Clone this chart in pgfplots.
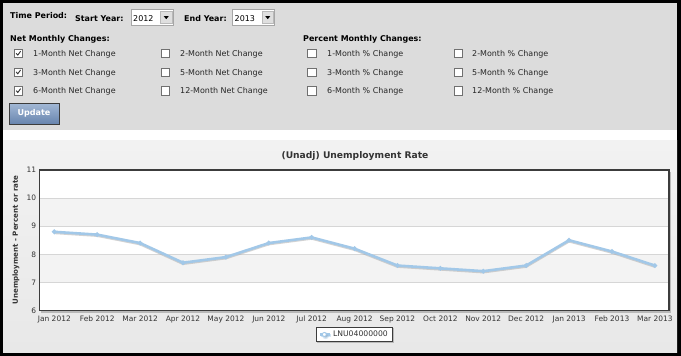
\documentclass[border=0pt]{standalone}
\usepackage{fontspec}
\setmainfont{DejaVu Sans}
\usepackage{pgfplots}
\pgfplotsset{compat=1.18}
\usetikzlibrary{shadows}
\definecolor{panelgray}{HTML}{DCDCDC}
\definecolor{chartbgtop}{HTML}{F2F2F2}
\definecolor{chartbgbot}{HTML}{E8E8E8}
\definecolor{lineblue}{HTML}{A2C8E8}
\definecolor{framec}{HTML}{3C3C3C}
\definecolor{gridc}{HTML}{D6D6D6}
\definecolor{bandc}{HTML}{F3F3F3}
\definecolor{tickc}{HTML}{333333}
\definecolor{markc}{HTML}{6A7F90}
\definecolor{btntop}{HTML}{A3B9D6}
\definecolor{btnbot}{HTML}{6784AE}
\definecolor{cbborder}{HTML}{707070}
\newcommand\uif{\fontsize{8}{9.6}\selectfont}
\newcommand\uib{\bfseries\fontsize{8}{9.6}\selectfont}
\begin{document}
\begin{tikzpicture}
\useasboundingbox (0,0) rectangle (681bp,-356bp);
\begin{scope}[x=1bp,y=-1bp]
% frame and panels
\fill[black] (0,0) rectangle (681,356);
\fill[panelgray] (3,3) rectangle (677,130);
\fill[white] (3,130) rectangle (677,140);
\shade[top color=chartbgtop,bottom color=chartbgbot] (3,140) rectangle (677,352);
% header texts
\node[anchor=base west,inner sep=0pt,font=\uib] at (10,18.6) {Time Period:};
\node[anchor=base west,inner sep=0pt,font=\uib] at (75,21.2) {Start Year:};
\node[anchor=base west,inner sep=0pt,font=\uib] at (184,21.2) {End Year:};
% select boxes
\foreach \sx/\yr in {131/2012,232.5/2013}{
  \fill[white,draw=gray!70] (\sx,9.5) rectangle (\sx+42,25);
  \node[anchor=base west,inner sep=0pt,font=\uif] at (\sx+2,21) {\yr};
  \fill[gray!25,draw=gray!55] (\sx+29.5,11) rectangle (\sx+41,23.5);
  \fill[black] (\sx+32.7,16) -- (\sx+37.8,16) -- (\sx+35.25,19.2) -- cycle;
}
\node[anchor=base west,inner sep=0pt,font=\uib] at (10,41.3) {Net Monthly Changes:};
\node[anchor=base west,inner sep=0pt,font=\uib] at (303,41.3) {Percent Monthly Changes:};
% checkboxes
\foreach \cx/\lx/\ck/\la/\lb/\lc in {
  14/33/1/1-Month Net Change/3-Month Net Change/6-Month Net Change,
  161/180/0/2-Month Net Change/5-Month Net Change/12-Month Net Change,
  307.5/327/0/1-Month \% Change/3-Month \% Change/6-Month \% Change,
  454/472/0/2-Month \% Change/5-Month \% Change/12-Month \% Change}{
  \foreach \yc/\txt in {53.5/\la,72.2/\lb,90.9/\lc}{
    \fill[white,draw=cbborder,line width=0.8bp] (\cx,\yc-4.3) rectangle (\cx+8.6,\yc+4.3);
    \ifnum\ck=1
      \draw[black!80,line width=0.9bp] (\cx+2.2,\yc-0.2) -- (\cx+3.8,\yc+1.6) -- (\cx+6.6,\yc-2.3);
    \fi
    \node[anchor=base west,inner sep=0pt,font=\uif,text=black!85] at (\lx,\yc+3) {\txt};
  }
}
% update button
\shade[top color=btntop,bottom color=btnbot,draw=framec,line width=0.8bp] (9,103) rectangle (59,124);
\node[font=\bfseries\fontsize{8.1}{9.7}\selectfont,text=white,inner sep=0pt] at (34,113.5) {Update};
% plot area background, shadow and bands
\fill[gray!55] (41,172) rectangle (671,312.5);
\fill[white] (39.3,170) rectangle (669,310.5);
\fill[bandc] (39.3,198.1) rectangle (669,226.2);
\fill[bandc] (39.3,254.3) rectangle (669,282.4);
% title and y label
\node[font=\bfseries\fontsize{9.2}{11}\selectfont,text=tickc,inner sep=0pt] at (355,156) {(Unadj) Unemployment Rate};
\node[rotate=90,font=\bfseries\fontsize{7.1}{8.5}\selectfont,text=tickc,inner sep=0pt] at (16,240) {Unemployment - Percent or rate};
\end{scope}
\begin{axis}[
  at={(39.3bp,-170bp)}, anchor=north west,
  scale only axis, width=629.7bp, height=140.5bp,
  xmin=-0.35, xmax=14.33, ymin=6, ymax=11,
  xtick={0,...,14},
  xticklabels={Jan 2012,Feb 2012,Mar 2012,Apr 2012,May 2012,Jun 2012,Jul 2012,Aug 2012,Sep 2012,Oct 2012,Nov 2012,Dec 2012,Jan 2013,Feb 2013,Mar 2013},
  ytick={6,...,11},
  major tick length=0pt,
  ymajorgrids, grid style={color=gridc, line width=0.8bp},
  axis line style={draw=framec, line width=1.5bp},
  tick label style={font=\fontsize{7.5}{9}\selectfont, text=tickc},
  /pgf/number format/assume math mode=true,
  xticklabel style={anchor=north, inner sep=0pt, yshift=-5bp},
  yticklabel style={anchor=east, inner sep=0pt, xshift=-3bp},
  legend style={at={(0.5,-0.115)}, anchor=north, draw=framec, fill=white,
    line width=0.8bp, font=\fontsize{7.7}{9}\selectfont, text=tickc,
    drop shadow={shadow xshift=1.3bp, shadow yshift=-1.3bp, opacity=0.45},
    inner xsep=2.5bp, inner ysep=1.8bp},
  legend image code/.code={\path (0bp,0bp) -- (10bp,0bp); \draw[lineblue,line width=0.9bp,fill=white] (4.5bp,0bp) circle (2bp);},
  clip=false,
]
\addplot[forget plot, color=gray!70, opacity=0.5, line width=2.6bp, yshift=-1bp] coordinates {
(0,8.8) (1,8.7) (2,8.4) (3,7.7) (4,7.9) (5,8.4) (6,8.6) (7,8.2) (8,7.6) (9,7.5) (10,7.4) (11,7.6) (12,8.5) (13,8.1) (14,7.6)};
\addplot[color=lineblue, line width=2.6bp, mark=*, mark size=0.8bp, mark options={fill=markc, draw=none}] coordinates {
(0,8.8) (1,8.7) (2,8.4) (3,7.7) (4,7.9) (5,8.4) (6,8.6) (7,8.2) (8,7.6) (9,7.5) (10,7.4) (11,7.6) (12,8.5) (13,8.1) (14,7.6)};
\addlegendentry{LNU04000000}
\end{axis}
\end{tikzpicture}
\end{document}
